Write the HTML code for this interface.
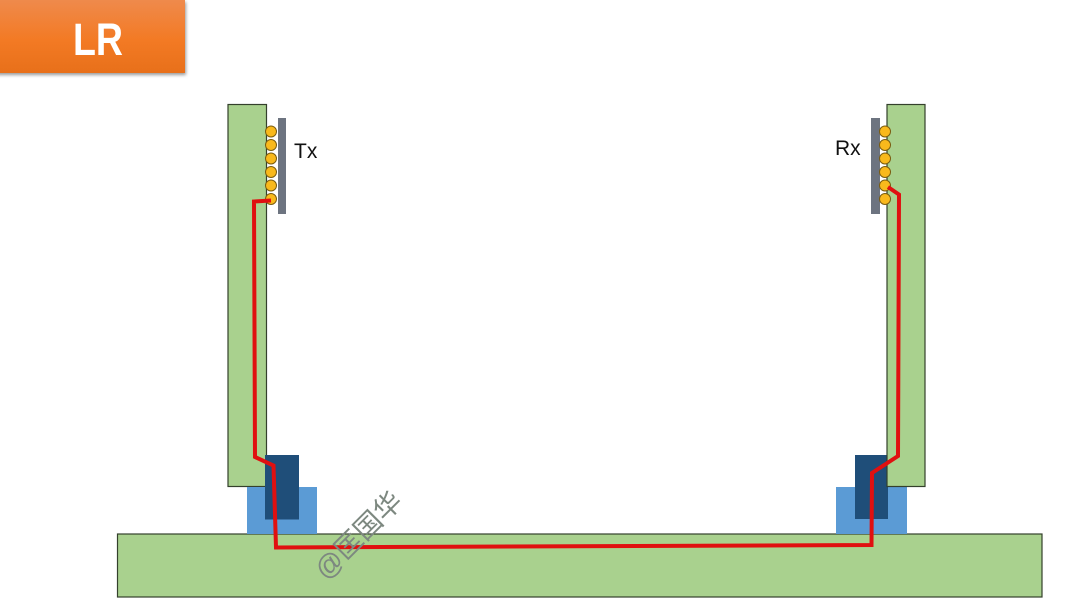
<!DOCTYPE html>
<html>
<head>
<meta charset="utf-8">
<style>
html,body{margin:0;padding:0;background:#fff;width:1080px;height:608px;overflow:hidden}
svg{display:block}
</style>
</head>
<body>
<svg xmlns="http://www.w3.org/2000/svg" width="1080" height="608" viewBox="0 0 1080 608">
<defs>
<linearGradient id="o" x1="0" y1="0" x2="0" y2="1">
<stop offset="0" stop-color="#ef8a4c"/>
<stop offset="0.55" stop-color="#f37a24"/>
<stop offset="1" stop-color="#e8701a"/>
</linearGradient>
<filter id="s" x="-5%" y="-10%" width="110%" height="125%">
<feGaussianBlur stdDeviation="1.5"/>
</filter>
</defs>
<rect x="-5" y="2" width="191" height="73" fill="#999" filter="url(#s)"/>
<rect x="0" y="0" width="185" height="73" fill="url(#o)"/>
<text x="98" y="55" text-anchor="middle" font-family="'Liberation Sans',sans-serif" font-weight="700" font-size="45" fill="#fff" textLength="50" lengthAdjust="spacingAndGlyphs">LR</text>

<rect x="117.5" y="534" width="924.500" height="63" fill="#a9d18e" stroke="#34402c" stroke-width="1.200"/>
<rect x="228" y="104.500" width="38.500" height="382" fill="#a9d18e" stroke="#34402c" stroke-width="1.200"/>

<rect x="247" y="487" width="70" height="47" fill="#5b9bd5"/>
<rect x="836" y="487" width="71" height="47" fill="#5b9bd5"/>
<rect x="265" y="455" width="34" height="64.500" fill="#1f4e79"/>
<rect x="855" y="455" width="33" height="64" fill="#1f4e79"/>
<rect x="887" y="104.500" width="38" height="382" fill="#a9d18e" stroke="#34402c" stroke-width="1.200"/>

<rect x="278" y="118" width="8" height="96" fill="#6d7480"/>
<rect x="871" y="118" width="9" height="96" fill="#6d7480"/>

<g fill="#f9b91c" stroke="#7a5c10" stroke-width="1">
<circle cx="271" cy="131.500" r="5.500"/>
<circle cx="271" cy="145" r="5.500"/>
<circle cx="271" cy="158.500" r="5.500"/>
<circle cx="271" cy="172" r="5.500"/>
<circle cx="271" cy="185.500" r="5.500"/>
<circle cx="271" cy="199" r="5.500"/>
<circle cx="885" cy="131.500" r="5.500"/>
<circle cx="885" cy="145" r="5.500"/>
<circle cx="885" cy="158.500" r="5.500"/>
<circle cx="885" cy="172" r="5.500"/>
<circle cx="885" cy="185.500" r="5.500"/>
<circle cx="885" cy="199" r="5.500"/>
</g>

<text x="294" y="158" font-family="'Liberation Sans',sans-serif" font-size="21" fill="#111">Tx</text>
<text x="835" y="155" font-family="'Liberation Sans',sans-serif" font-size="21" fill="#111">Rx</text>

<path d="M271 200.500L254 201.500L255 457L273.500 465.500L276 547.500L871.500 545L872 473L898 456L899 194.500L888 187" fill="none" stroke="#e01010" stroke-width="4" stroke-linejoin="miter"/>

<text x="0" y="0" transform="translate(326 581) rotate(-45)" font-family="'Liberation Sans','Noto Sans CJK SC',sans-serif" font-size="27.500" fill="#7d8880">@匡国华</text>
</svg>
</body>
</html>
